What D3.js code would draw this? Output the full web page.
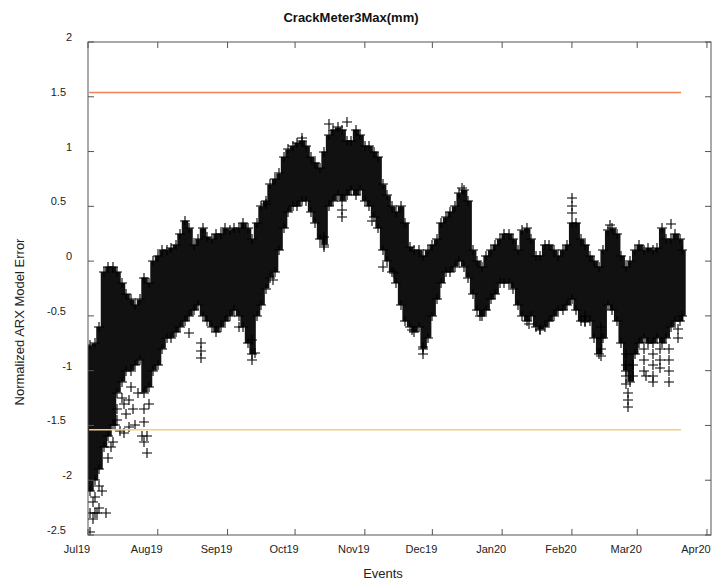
<!DOCTYPE html>
<html>
<head>
<meta charset="utf-8">
<script src="https://cdn.jsdelivr.net/npm/d3@7"></script>
<style>
  body { margin: 0; background: #fff; }
  svg { display: block; font-family: "Liberation Sans", Arial, sans-serif; }
</style>
</head>
<body>
<div id="chart"></div>
<script>
// days since 2019-07-01, upper / lower edge of the dense marker cloud
const dayOffsets = [1,3,5,7,9,11,13,15,17,19,21,23,25,27,29,31,33,35,37,39,41,43,45,47,49,51,53,55,57,59,
  61,63,65,67,69,71,73,75,77,79,81,83,85,87,89,91,93,95,97,99,101,103,105,107,109,111,113,115,117,119,
  121,123,125,127,129,131,133,135,137,139,141,143,145,147,149,151,153,155,157,159,161,163,165,167,169,171,173,175,177,179,
  181,183,185,187,189,191,193,195,197,199,201,203,205,207,209,211,213,215,217,219,221,223,225,227,229,231,233,235,237,239,
  241,243,245,247,249,251,253,255,257,259,261,263,264];
const upper = [-0.77,-0.75,-0.6,-0.1,-0.05,-0.05,-0.1,-0.2,-0.3,-0.35,-0.4,-0.35,-0.15,-0.2,0.0,0.05,0.1,0.1,0.12,0.15,
  0.25,0.37,0.3,0.15,0.2,0.3,0.22,0.2,0.25,0.25,0.3,0.28,0.3,0.3,0.35,0.3,0.2,0.35,0.5,0.55,
  0.7,0.75,0.8,0.95,1.02,1.05,1.08,1.1,1.05,0.95,0.9,0.85,1.0,1.15,1.2,1.22,1.2,1.1,1.1,1.2,
  1.15,1.05,1.05,1.0,0.95,0.7,0.6,0.5,0.45,0.5,0.35,0.13,0.1,0.1,0.05,0.1,0.15,0.2,0.35,0.4,
  0.45,0.5,0.62,0.65,0.55,0.1,0.0,-0.05,0.05,0.1,0.15,0.2,0.25,0.25,0.2,0.1,0.28,0.3,0.2,0.05,
  0.05,0.15,0.15,0.1,0.05,0.1,0.15,0.35,0.35,0.2,0.15,0.05,0.0,-0.05,0.1,0.28,0.3,0.25,0.05,-0.05,
  0.0,0.1,0.15,0.1,0.12,0.1,0.12,0.3,0.2,0.2,0.25,0.2,0.1];
const lower = [-2.1,-2.0,-1.9,-1.7,-1.6,-1.5,-1.2,-1.1,-1.0,-1.0,-0.95,-0.9,-1.2,-1.15,-1.0,-0.95,-0.8,-0.7,-0.7,-0.65,
  -0.6,-0.55,-0.5,-0.45,-0.4,-0.5,-0.55,-0.6,-0.65,-0.6,-0.55,-0.5,-0.45,-0.5,-0.6,-0.75,-0.85,-0.5,-0.4,-0.25,
  -0.15,-0.1,0.1,0.3,0.45,0.5,0.5,0.55,0.55,0.45,0.35,0.2,0.15,0.5,0.55,0.6,0.55,0.6,0.65,0.6,
  0.65,0.55,0.5,0.4,0.3,0.1,0.0,-0.1,-0.2,-0.4,-0.55,-0.6,-0.65,-0.6,-0.8,-0.7,-0.5,-0.35,-0.2,-0.1,
  -0.1,-0.05,0.0,-0.05,-0.15,-0.3,-0.45,-0.5,-0.45,-0.35,-0.3,-0.2,-0.2,-0.2,-0.25,-0.4,-0.5,-0.55,-0.5,-0.6,
  -0.62,-0.6,-0.55,-0.5,-0.45,-0.45,-0.4,-0.35,-0.45,-0.55,-0.55,-0.55,-0.7,-0.85,-0.7,-0.4,-0.45,-0.55,-0.75,-1.0,
  -1.1,-0.85,-0.75,-0.7,-0.75,-0.75,-0.7,-0.75,-0.7,-0.6,-0.55,-0.55,-0.5];

// scattered single markers outside the dense band
const outDays = [1,1,2,2,3,3,4,5,5,6,8,9,10,11,12,
  13,13,14,15,16,16,17,18,18,19,20,21,22,24,25,25,25,26,26,27,
  45,50,50,50,67,73,74,73,
  79,82,95,105,105,107,113,113,115,126,
  131,136,144,149,149,166,
  174,196,201,215,215,215,221,221,
  228,228,228,228,232,239,239,239,239,240,240,240,242,242,247,247,247,248,
  251,251,251,251,254,254,254,258,258,258,258,259,262,262];
const outValues = [-2.3,-2.47,-2.2,-2.35,-2.15,-2.3,-2.3,-2.05,-2.25,-2.1,-2.3,-1.8,-1.7,-1.65,-1.5,
  -1.35,-1.45,-1.55,-1.25,-1.3,-1.57,-1.4,-1.27,-1.51,-1.15,-1.35,-1.5,-1.2,-1.6,-1.35,-1.47,-1.65,-1.6,-1.75,-1.3,
  -0.66,-0.75,-0.82,-0.88,-0.6,-0.72,-0.84,-0.9,
  0.52,-0.17,1.12,0.22,0.13,1.25,0.47,0.4,1.27,0.37,
  -0.05,-0.11,-0.63,-0.78,-0.85,0.67,
  -0.5,-0.57,-0.63,0.58,0.5,0.44,-0.5,-0.56,
  -0.6,-0.7,-0.8,-0.87,0.33,-0.85,-0.95,-1.05,-1.12,-1.2,-1.27,-1.33,-0.95,-1.05,-0.8,-0.9,-1.0,-1.05,
  -0.85,-0.95,-1.05,-1.1,-0.8,-0.9,-0.98,-0.8,-0.9,-1.0,-1.1,0.34,-0.62,-0.7];

const thresholds = [1.54, -1.54];
const thresholdColors = ['#ef8355', '#f3d07c'];

const yTicks = [-2.5, -2, -1.5, -1, -0.5, 0, 0.5, 1, 1.5, 2];
const xTickLabels = ['Jul19','Aug19','Sep19','Oct19','Nov19','Dec19','Jan20','Feb20','Mar20','Apr20'];

const W = 713, H = 583;
const mg = { left: 88, right: 711, top: 42, bottom: 535 };
const start = new Date(2019, 6, 1);
const toDate = d => d3.timeHour.offset(start, d * 24);

const svg = d3.select('#chart').append('svg')
  .attr('width', W)
  .attr('height', H);

const x = d3.scaleTime()
  .domain([start, toDate(276.8)])
  .range([mg.left, mg.right]);
const y = d3.scaleLinear()
  .domain([-2.5, 2])
  .range([mg.bottom, mg.top]);

svg.append('clipPath').attr('id', 'plot')
  .append('rect')
  .attr('x', mg.left).attr('y', mg.top)
  .attr('width', mg.right - mg.left).attr('height', mg.bottom - mg.top);

const plot = svg.append('g').attr('clip-path', 'url(#plot)');

// dense band between the edges
plot.selectAll('.band')
  .data(dayOffsets)
  .enter().append('rect')
  .attr('class', 'band')
  .attr('x', (d) => x(toDate(d)) - 3)
  .attr('width', 6.5)
  .attr('y', (d, i) => y(upper[i]))
  .attr('height', (d, i) => y(lower[i]) - y(upper[i]))
  .style('fill', '#111');

const plus = 'M-5,0H5M0,-5V5';
const pts = [];
dayOffsets.forEach((d, i) => {
  pts.push([d, upper[i]]);
  pts.push([d, lower[i]]);
});
outDays.forEach((d, i) => pts.push([d, outValues[i]]));

plot.selectAll('.pt')
  .data(pts)
  .enter().append('path')
  .attr('class', 'pt')
  .attr('d', plus)
  .attr('transform', (d) => `translate(${Math.round(x(toDate(d[0])))},${Math.round(y(d[1]))})`)
  .style('stroke', '#000')
  .style('stroke-width', 1.1)
  .style('fill', 'none');

// threshold lines over the data range
const first = toDate(d3.min(dayOffsets) - 0.5), last = toDate(d3.max(dayOffsets) - 0.5);
svg.selectAll('.thr')
  .data(thresholds)
  .enter().append('line')
  .attr('x1', x(first)).attr('x2', x(last))
  .attr('y1', (d) => y(d)).attr('y2', (d) => y(d))
  .style('stroke', (d, i) => thresholdColors[i])
  .style('stroke-width', 1.5);

// frame and inward ticks
const frame = '#555';
svg.append('rect')
  .attr('x', mg.left).attr('y', mg.top)
  .attr('width', mg.right - mg.left).attr('height', mg.bottom - mg.top)
  .style('fill', 'none').style('stroke', frame);

const xTickDates = xTickLabels.map((t, i) => new Date(2019, 6 + i, 1));
const tl = 6;

svg.selectAll('.xt')
  .data(xTickDates)
  .enter().append('path')
  .attr('d', (d) => `M${x(d)},${mg.bottom}v${-tl}M${x(d)},${mg.top}v${tl}`)
  .style('stroke', frame);

svg.selectAll('.yt')
  .data(yTicks)
  .enter().append('path')
  .attr('d', (d) => `M${mg.left},${y(d)}h${tl}M${mg.right},${y(d)}h${-tl}`)
  .style('stroke', frame);

svg.selectAll('.xl')
  .data(xTickDates)
  .enter().append('text')
  .attr('x', (d) => x(d) - 11)
  .attr('y', 553)
  .text((d, i) => xTickLabels[i])
  .style('text-anchor', 'middle')
  .style('font-size', '11px')
  .style('fill', '#222');

svg.selectAll('.yl')
  .data(yTicks)
  .enter().append('text')
  .attr('x', (d) => Number.isInteger(d) ? 72 : 66)
  .attr('y', (d) => y(d) - 1)
  .text((d) => d)
  .style('text-anchor', 'end')
  .style('font-size', '11px')
  .style('fill', '#222');

svg.append('text')
  .attr('x', 351).attr('y', 22)
  .text('CrackMeter3Max(mm)')
  .style('text-anchor', 'middle')
  .style('font-weight', 'bold')
  .style('font-size', '13px')
  .style('fill', '#111');

svg.append('text')
  .attr('x', 383).attr('y', 578)
  .text('Events')
  .style('text-anchor', 'middle')
  .style('font-size', '13px')
  .style('fill', '#222');

svg.append('text')
  .attr('transform', 'translate(24,322) rotate(-90)')
  .text('Normalized ARX Model Error')
  .style('text-anchor', 'middle')
  .style('font-size', '13px')
  .style('fill', '#222');
</script>
</body>
</html>
